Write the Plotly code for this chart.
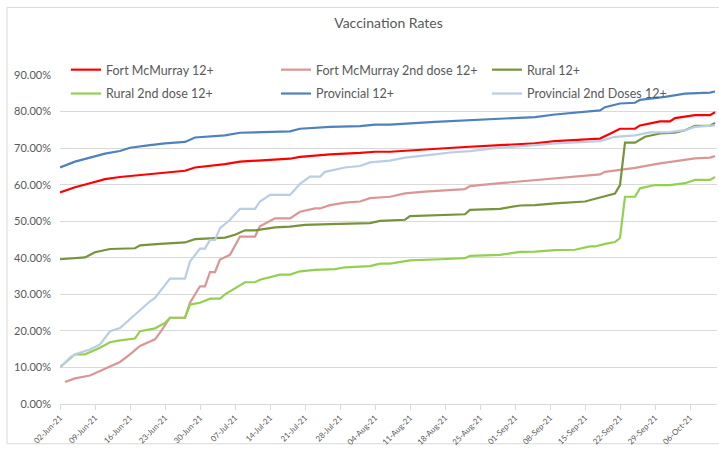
import plotly.graph_objects as go
import pandas as pd

START = "2021-06-02"

# ---- data (days since 02-Jun-21, percent) ----
fm12_days = [0, 3, 6, 9, 12, 15, 19, 25, 27, 30, 33, 36, 46, 48, 54, 60, 63, 66, 75, 81, 88, 95, 99, 104, 108, 110, 112, 115, 116, 120, 122, 123, 127, 130, 131]
fm12_vals = [57.9, 59.3, 60.4, 61.5, 62.1, 62.5, 63.0, 63.8, 64.7, 65.1, 65.6, 66.3, 67.1, 67.6, 68.3, 68.7, 69.0, 69.0, 69.9, 70.3, 70.8, 71.3, 71.9, 72.2, 72.6, 73.9, 75.3, 75.3, 76.2, 77.3, 77.3, 78.2, 79.0, 79.0, 79.8]

fm2_days = [1, 3, 6, 8, 10, 12, 14, 16, 19, 20, 22, 25, 26, 28, 29, 30, 31, 32, 34, 36, 39, 40, 43, 46, 48, 51, 52, 54, 57, 60, 62, 66, 69, 73, 81, 82, 88, 95, 99, 105, 108, 109, 115, 120, 127, 130, 131]
fm2_vals = [6.0, 7.0, 7.8, 9.0, 10.4, 11.5, 13.6, 15.9, 17.7, 19.5, 23.6, 23.6, 27.7, 32.2, 32.2, 36.1, 36.1, 39.5, 40.8, 45.8, 45.8, 48.6, 50.8, 50.8, 52.6, 53.5, 53.5, 54.4, 55.1, 55.4, 56.3, 56.7, 57.6, 58.1, 58.8, 59.6, 60.4, 61.3, 61.7, 62.5, 62.8, 63.5, 64.6, 65.8, 67.2, 67.4, 67.8]

rural12_days = [0, 5, 7, 10, 15, 16, 20, 25, 27, 33, 35, 37, 39, 43, 46, 49, 54, 62, 64, 69, 70, 81, 82, 88, 92, 95, 99, 105, 108, 111, 112, 113, 115, 117, 120, 123, 125, 127, 130, 131]
rural12_vals = [39.6, 40.1, 41.5, 42.4, 42.6, 43.4, 43.8, 44.2, 45.1, 45.5, 46.3, 47.5, 47.5, 48.3, 48.5, 49.0, 49.2, 49.5, 50.1, 50.4, 51.4, 51.9, 53.1, 53.4, 54.3, 54.4, 54.9, 55.4, 56.5, 57.6, 59.9, 71.5, 71.5, 73.1, 74.0, 74.2, 74.9, 76.1, 76.1, 76.9]

rural2_days = [0, 2, 3, 5, 7, 8, 10, 12, 15, 16, 19, 21, 22, 25, 26, 28, 30, 32, 33, 37, 39, 40, 44, 46, 48, 51, 55, 57, 62, 64, 66, 70, 76, 81, 82, 88, 92, 95, 99, 103, 106, 107, 109, 111, 112, 113, 115, 116, 119, 122, 125, 127, 130, 131]
rural2_vals = [10.1, 12.5, 13.6, 13.6, 14.7, 15.4, 16.9, 17.4, 17.9, 19.9, 20.7, 22.2, 23.6, 23.6, 27.2, 27.7, 28.8, 28.8, 30.0, 33.3, 33.3, 34.0, 35.4, 35.4, 36.3, 36.7, 36.9, 37.4, 37.7, 38.4, 38.4, 39.3, 39.6, 39.9, 40.5, 40.8, 41.6, 41.7, 42.1, 42.2, 43.1, 43.1, 43.8, 44.3, 45.4, 56.7, 56.7, 59.0, 59.9, 59.9, 60.4, 61.3, 61.3, 62.1]

prov12_days = [0, 3, 6, 9, 12, 14, 18, 21, 25, 27, 33, 36, 46, 48, 54, 60, 63, 66, 75, 81, 88, 95, 99, 105, 108, 109, 112, 115, 116, 121, 125, 130, 131]
prov12_vals = [64.7, 66.3, 67.4, 68.5, 69.2, 70.1, 70.8, 71.3, 71.7, 72.9, 73.5, 74.2, 74.6, 75.3, 75.8, 76.0, 76.4, 76.4, 77.2, 77.6, 78.1, 78.5, 79.2, 79.9, 80.3, 81.2, 82.2, 82.4, 83.2, 84.0, 84.9, 85.2, 85.5]

prov2_days = [0, 2, 3, 4, 6, 8, 10, 12, 15, 18, 19, 22, 25, 26, 28, 29, 30, 31, 32, 34, 36, 39, 40, 42, 46, 48, 50, 52, 53, 57, 60, 62, 66, 69, 75, 78, 82, 88, 95, 99, 108, 111, 115, 118, 122, 125, 127, 130, 131]
prov2_vals = [9.9, 12.7, 13.6, 14.0, 14.9, 16.3, 19.9, 20.8, 24.5, 28.1, 29.0, 34.3, 34.3, 39.0, 42.5, 42.5, 44.9, 44.9, 48.1, 50.4, 53.4, 53.4, 55.4, 57.2, 57.2, 60.2, 62.2, 62.2, 63.5, 64.7, 65.1, 66.1, 66.6, 67.4, 68.3, 68.8, 69.2, 70.1, 70.8, 71.3, 71.9, 73.1, 73.5, 74.3, 74.4, 74.9, 75.8, 76.0, 76.2]

series_names = ["Fort McMurray 12+", "Fort McMurray 2nd dose 12+", "Rural 12+",
                "Rural 2nd dose 12+", "Provincial 12+", "Provincial 2nd Doses 12+"]
series_colors = ["#FF0000", "#DA9694", "#77933C", "#92D050", "#4F81BD", "#B9CDE5"]
series_days = [fm12_days, fm2_days, rural12_days, rural2_days, prov12_days, prov2_days]
series_vals = [fm12_vals, fm2_vals, rural12_vals, rural2_vals, prov12_vals, prov2_vals]

start = pd.Timestamp(START)
tick_dates = pd.date_range(start, periods=19, freq="7D")

FONT = "Lato"
GREY = "#595959"

W, H = 719, 449
L, R, T, B = 60, 2, 75, 43
pw, ph = W - L - R, H - T - B


def px_x(px):
    return (px - L) / pw


def px_y(py):
    return (H - B - py) / ph


legend_ids = ["legend", "legend2", "legend3", "legend4", "legend5", "legend6"]
legend_px = [(66, 70), (276, 70), (487, 70), (66, 94), (276, 94), (487, 94)]

fig = go.Figure()
for name, color, days, vals, lg in zip(series_names, series_colors, series_days, series_vals, legend_ids):
    fig.add_trace(go.Scatter(
        x=[start + pd.Timedelta(days=d) for d in days],
        y=[v / 100 for v in vals],
        mode="lines", name=name, legend=lg,
        line=dict(color=color, width=2.2),
    ))

legend_layout = {}
for lg, (lx, ly) in zip(legend_ids, legend_px):
    legend_layout[lg] = dict(
        orientation="h", xanchor="left", yanchor="middle",
        x=px_x(lx), y=px_y(ly), itemwidth=30,
        font=dict(family=FONT, size=12.5, color=GREY),
        bgcolor="rgba(0,0,0,0)",
    )

fig.update_layout(
    width=W, height=H,
    margin=dict(l=L, r=R, t=T, b=B),
    paper_bgcolor="white", plot_bgcolor="white",
    title=dict(text="Vaccination Rates", x=0.5, xanchor="center", xref="paper",
               y=1 - 23 / H, yanchor="middle", yref="container",
               font=dict(family=FONT, size=14, color=GREY)),
    showlegend=True,
    xaxis=dict(
        type="date",
        range=[start, start + pd.Timedelta(days=131.4)],
        tickvals=list(tick_dates),
        tickformat="%d-%b-%y",
        tickangle=-45,
        tickfont=dict(family=FONT, size=8, color=GREY),
        showgrid=False, showline=True, linecolor="#D9D9D9", linewidth=1,
        ticks="outside", ticklen=5, tickcolor="#D9D9D9",
        zeroline=False,
    ),
    yaxis=dict(
        range=[0, 0.9], dtick=0.1, tickformat=".2%",
        tickfont=dict(family=FONT, size=11, color=GREY),
        showgrid=True, gridcolor="#D9D9D9", gridwidth=1,
        zeroline=False, showline=False, ticks="", ticklabelstandoff=8,
    ),
    shapes=[dict(type="rect", xref="paper", yref="paper",
                 x0=px_x(7), x1=px_x(725), y0=px_y(446), y1=px_y(7),
                 line=dict(color="#D9D9D9", width=1), layer="below")],
    **legend_layout,
)

fig.write_html("out.html", config={"displayModeBar": False},
               post_script="document.body.style.margin='0';document.body.style.overflow='hidden';")
